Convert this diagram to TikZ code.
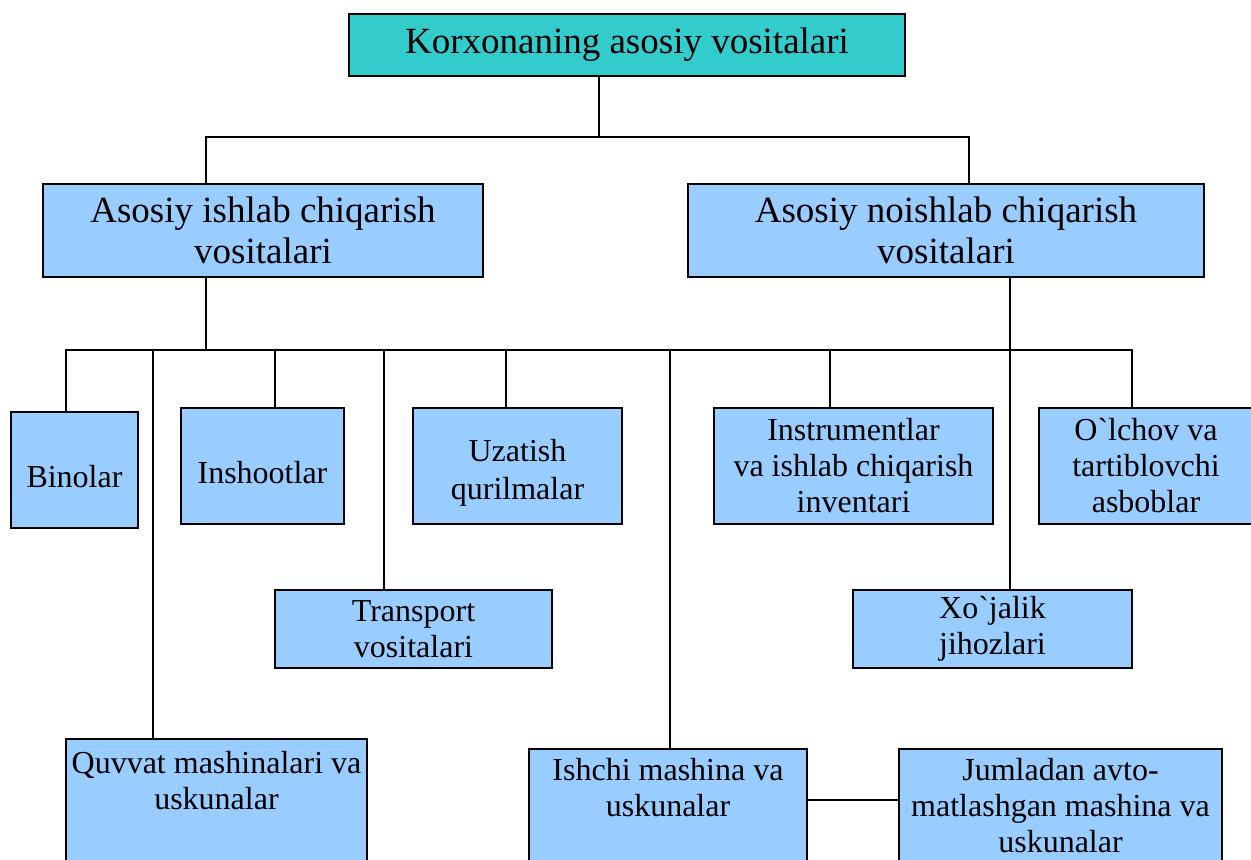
\documentclass[tikz,border=0pt]{standalone}
\usepackage{fontspec}
\setmainfont{Liberation Serif}[Ligatures=TeXOff]
\definecolor{teal1}{HTML}{33CCCC}
\definecolor{blue1}{HTML}{99CCFF}
\newcommand\fsbig{\fontsize{18.5}{20.5}\selectfont}
\newcommand\fssmall{\fontsize{16}{18}\selectfont}
\newcommand\grv{\symbol{96}}
\tikzset{
  box/.style={draw=black, line width=1pt, fill=blue1, inner sep=0pt, align=center, font=\fssmall},
  bigbox/.style={box, font=\fsbig},
  txt/.style={inner sep=0pt, align=center, font=\fssmall},
  conn/.style={draw=black, line width=0.9pt}
}
\begin{document}
\begin{tikzpicture}[x=0.5pt,y=-0.5pt]
\clip (0,0) rectangle (1251,859);
\fill[white] (0,0) rectangle (1251,859);
% level 0
\node[bigbox, fill=teal1, minimum width=278pt, minimum height=31pt] (top) at (627,45) {Korxonaning asosiy vositalari};
% level 1
\node[bigbox, minimum width=220pt, minimum height=46.5pt] (ais) at (263,230.5) {Asosiy ishlab chiqarish\\vositalari};
\node[bigbox, minimum width=258pt, minimum height=46.5pt] (ains) at (946,230.5) {Asosiy noishlab chiqarish\\vositalari};
% level 2
\node[box, minimum width=63.5pt, minimum height=58pt] (binolar) at (74.5,470) {};
\node[txt] (binolartxt) at (74.5,477) {Binolar};
\node[box, minimum width=81.5pt, minimum height=58pt] (inshoot) at (262.5,466) {};
\node[txt] (inshoottxt) at (262.5,473) {Inshootlar};
\node[box, minimum width=104.5pt, minimum height=58pt] (uzatish) at (517.5,466) {};
\node[txt, font=\fontsize{16}{19}\selectfont] (uzatishtxt) at (517.5,473) {Uzatish\\qurilmalar};
\node[box, minimum width=139.5pt, minimum height=58pt] (instr) at (853.5,466) {Instrumentlar\\va ishlab chiqarish\\inventari};
\node[box, minimum width=107pt, minimum height=58pt] (olchov) at (1146,466) {O\grv lchov va\\tartiblovchi\\asboblar};
\node[box, minimum width=138.5pt, minimum height=39pt] (transport) at (413.5,629) {Transport\\vositalari};
\node[box, minimum width=139.5pt, minimum height=39pt] (xojalik) at (992.5,629) {Xo\grv jalik\\jihozlari};
% bottom (cut-off) boxes
\node[box, anchor=north, minimum width=150.5pt, minimum height=90pt] (quvvat) at (216.5,738) {};
\node[txt] (quvvattxt) at (216.5,781) {Quvvat mashinalari va\\uskunalar};
\node[box, anchor=north, minimum width=139pt, minimum height=80pt] (ishchi) at (668,748) {};
\node[txt] (ishchitxt) at (668,788) {Ishchi mashina va\\uskunalar};
\node[box, anchor=north, minimum width=161.5pt, minimum height=80pt] (jumladan) at (1060.5,748) {};
\node[txt] (jumladantxt) at (1060.5,806) {Jumladan avto-\\matlashgan mashina va\\uskunalar};
% connectors
\coordinate (busA) at (599,137);
\coordinate (busL) at (66,350);
\coordinate (busR) at (1132,350);
\draw[conn] (top.south -| busA) -- (busA);
\draw[conn] (ais.north -| 206,0) |- (busA);
\draw[conn] (ains.north -| 969,0) |- (busA);
\draw[conn] (ais.south -| 206,0) -- (busL -| 206,0);
\draw[conn] (binolar.north -| busL) -- (busL) -- (busR) -- (olchov.north -| busR);
\draw[conn] (busL -| 153,0) -- (quvvat.north -| 153,0);
\draw[conn] (busL -| 275,0) -- (inshoot.north -| 275,0);
\draw[conn] (busL -| 384,0) -- (transport.north -| 384,0);
\draw[conn] (busL -| 506,0) -- (uzatish.north -| 506,0);
\draw[conn] (busL -| 670,0) -- (ishchi.north -| 670,0);
\draw[conn] (busL -| 830,0) -- (instr.north -| 830,0);
\draw[conn] (ains.south -| 1010,0) -- (xojalik.north -| 1010,0);
\draw[conn] (ishchi.east |- 0,800) -- (jumladan.west |- 0,800);
\end{tikzpicture}
\end{document}
